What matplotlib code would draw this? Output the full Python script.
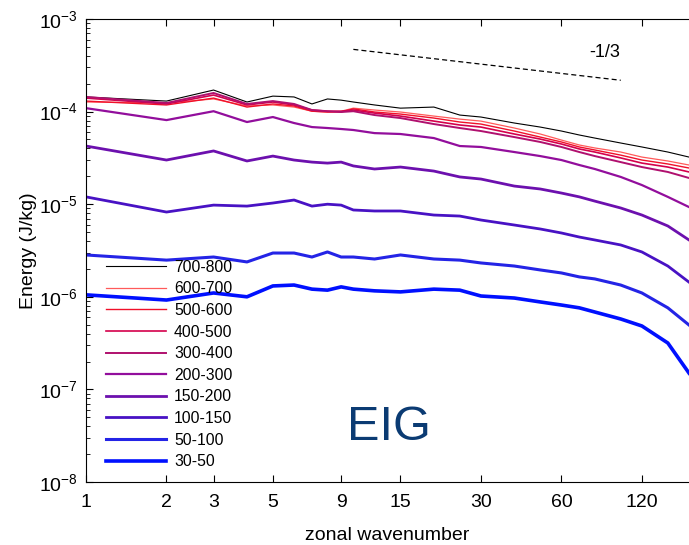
import matplotlib
matplotlib.use("Agg")
import matplotlib.pyplot as plt
from matplotlib.ticker import FixedLocator, NullLocator, LogLocator, NullFormatter

plt.rcParams['font.family'] = ['Liberation Sans', 'DejaVu Sans']
plt.rcParams['mathtext.default'] = 'regular'

# zonal wavenumbers where the curves were read
wavenumber = [1, 2, 3, 4, 5, 6, 7, 8, 9, 10, 12, 15, 20, 25, 30, 40, 50, 60, 70, 80, 100, 120, 150, 180]

# energy spectra (J/kg), one list per layer
e_700_800 = [1.44e-4, 1.30e-4, 1.71e-4, 1.27e-4, 1.47e-4, 1.44e-4, 1.21e-4, 1.37e-4, 1.33e-4, 1.27e-4,
             1.18e-4, 1.09e-4, 1.12e-4, 9.18e-5, 8.74e-5, 7.53e-5, 6.81e-5, 6.17e-5, 5.59e-5, 5.18e-5,
             4.58e-5, 4.15e-5, 3.66e-5, 3.23e-5]
e_600_700 = [1.27e-4, 1.24e-4, 1.37e-4, 1.15e-4, 1.18e-4, 1.12e-4, 1.01e-4, 9.9e-5, 1.01e-4, 1.09e-4,
             1.04e-4, 9.9e-5, 8.95e-5, 8.3e-5, 7.9e-5, 6.65e-5, 5.73e-5, 4.93e-5, 4.36e-5, 4.05e-5,
             3.66e-5, 3.23e-5, 2.93e-5, 2.65e-5]
e_500_600 = [1.30e-4, 1.18e-4, 1.40e-4, 1.12e-4, 1.21e-4, 1.15e-4, 1.01e-4, 9.9e-5, 9.9e-5, 1.07e-4,
             9.9e-5, 9.41e-5, 8.52e-5, 7.72e-5, 7.34e-5, 6.17e-5, 5.31e-5, 4.70e-5, 4.15e-5, 3.85e-5,
             3.39e-5, 3.00e-5, 2.72e-5, 2.46e-5]
e_400_500 = [1.40e-4, 1.21e-4, 1.51e-4, 1.18e-4, 1.27e-4, 1.18e-4, 1.04e-4, 1.01e-4, 1.01e-4, 1.04e-4,
             9.64e-5, 8.95e-5, 7.9e-5, 7.17e-5, 6.81e-5, 5.73e-5, 5.05e-5, 4.47e-5, 3.95e-5, 3.66e-5,
             3.16e-5, 2.78e-5, 2.52e-5, 2.23e-5]
e_300_400 = [1.44e-4, 1.24e-4, 1.59e-4, 1.21e-4, 1.30e-4, 1.21e-4, 1.04e-4, 1.01e-4, 9.9e-5, 1.01e-4,
             9.18e-5, 8.52e-5, 7.34e-5, 6.65e-5, 6.17e-5, 5.31e-5, 4.70e-5, 4.15e-5, 3.66e-5, 3.31e-5,
             2.85e-5, 2.52e-5, 2.23e-5, 1.92e-5]
e_200_300 = [1.09e-4, 8.10e-5, 1.01e-4, 7.72e-5, 8.74e-5, 7.53e-5, 6.81e-5, 6.65e-5, 6.49e-5, 6.33e-5,
             5.86e-5, 5.73e-5, 5.18e-5, 4.25e-5, 4.15e-5, 3.66e-5, 3.31e-5, 3.00e-5, 2.65e-5, 2.40e-5,
             1.97e-5, 1.61e-5, 1.20e-5, 9.32e-6]
e_150_200 = [4.25e-5, 3.00e-5, 3.76e-5, 2.93e-5, 3.31e-5, 3.00e-5, 2.85e-5, 2.78e-5, 2.85e-5, 2.59e-5,
             2.40e-5, 2.52e-5, 2.28e-5, 1.97e-5, 1.87e-5, 1.57e-5, 1.46e-5, 1.32e-5, 1.20e-5, 1.08e-5,
             9.1e-6, 7.64e-6, 5.82e-6, 4.11e-6]
e_100_150 = [1.20e-5, 8.23e-6, 9.78e-6, 9.54e-6, 1.03e-5, 1.11e-5, 9.54e-6, 1.00e-5, 9.78e-6, 8.66e-6,
             8.45e-6, 8.45e-6, 7.64e-6, 7.45e-6, 6.75e-6, 5.96e-6, 5.40e-6, 4.89e-6, 4.42e-6, 4.11e-6,
             3.63e-6, 3.05e-6, 2.15e-6, 1.44e-6]
e_50_100 = [2.83e-6, 2.49e-6, 2.69e-6, 2.38e-6, 2.97e-6, 2.97e-6, 2.69e-6, 3.05e-6, 2.69e-6, 2.69e-6,
            2.56e-6, 2.83e-6, 2.56e-6, 2.49e-6, 2.32e-6, 2.15e-6, 1.95e-6, 1.81e-6, 1.64e-6, 1.56e-6,
            1.34e-6, 1.10e-6, 7.6e-7, 4.96e-7]
e_30_50 = [1.05e-6, 9.23e-7, 1.10e-6, 1.0e-6, 1.31e-6, 1.34e-6, 1.21e-6, 1.18e-6, 1.28e-6, 1.21e-6,
           1.16e-6, 1.13e-6, 1.21e-6, 1.18e-6, 1.02e-6, 9.7e-7, 8.8e-7, 8.15e-7, 7.6e-7, 6.85e-7,
           5.76e-7, 4.84e-7, 3.17e-7, 1.50e-7]

layer_labels = ['700-800', '600-700', '500-600', '400-500', '300-400',
                '200-300', '150-200', '100-150', '50-100', '30-50']
spectra = [e_700_800, e_600_700, e_500_600, e_400_500, e_300_400,
           e_200_300, e_150_200, e_100_150, e_50_100, e_30_50]

x_ticks = [1, 2, 3, 5, 9, 15, 30, 60, 120]

# -1/3 reference slope line
ref_k = [10, 100]
ref_e = [4.7e-4, 2.18e-4]

colors = ['#000000', '#ff5a5a', '#f0102a', '#d4004c', '#b0106e',
          '#920e9c', '#6c10ae', '#4812c4', '#2424e6', '#0010ff']
widths = [0.8, 0.9, 1.0, 1.2, 1.4, 1.6, 2.0, 2.0, 2.2, 2.6]

fig = plt.figure(figsize=(6.89, 5.45), dpi=100)
ax = fig.add_axes([0.1248, 0.1156, 0.8752, 0.8495])

for lab, e, c, w in zip(layer_labels, spectra, colors, widths):
    ax.plot(wavenumber, e, color=c, lw=w, label=lab)

ax.plot(ref_k, ref_e, color='black', lw=0.9, ls=(0, (4, 2.5)))
ax.text(87, 4.4e-4, '-1/3', fontsize=13, ha='center', va='center')
ax.text(13.6, 3.9e-8, 'EIG', fontsize=35, color='#0b3b73', ha='center', va='center')

ax.set_xscale('log')
ax.set_yscale('log')
ax.set_xlim(1, 180)
ax.set_ylim(1e-8, 1e-3)

ax.xaxis.set_major_locator(FixedLocator(x_ticks))
ax.xaxis.set_minor_locator(NullLocator())
ax.set_xticklabels([str(t) for t in x_ticks])
ax.yaxis.set_major_locator(LogLocator(base=10, numticks=10))
ax.yaxis.set_minor_locator(LogLocator(base=10, subs=range(2, 10), numticks=10))
ax.yaxis.set_minor_formatter(NullFormatter())

ax.tick_params(which='both', direction='in', top=True, right=False, labelsize=14)
ax.tick_params(which='major', length=5, width=0.8)
ax.tick_params(which='minor', length=3, width=0.6)
ax.tick_params(axis='x', pad=9)
ax.tick_params(axis='y', pad=6)
ax.spines['right'].set_visible(False)

ax.set_xlabel('zonal wavenumber', fontsize=14, labelpad=11)
ax.set_ylabel('Energy (J/kg)', fontsize=14, labelpad=1)

ax.legend(loc='upper left', bbox_to_anchor=(0.034, 0.480), frameon=False, fontsize=11.3,
          handlelength=3.8, handletextpad=0.5, labelspacing=0.42, borderpad=0, borderaxespad=0)

fig.savefig('out.png', dpi=100)
